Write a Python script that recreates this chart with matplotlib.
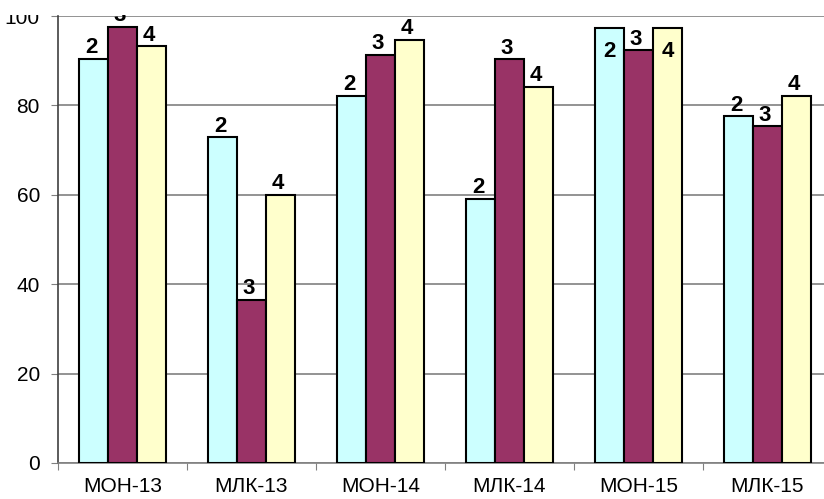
import numpy as np
import matplotlib.pyplot as plt
from matplotlib.patches import Rectangle

categories = ['МОН-13', 'МЛК-13', 'МОН-14', 'МЛК-14', 'МОН-15', 'МЛК-15']
series_names = ['2', '3', '4']
vals_2 = [90.4, 72.9, 82.2, 59.1, 97.3, 77.6]
vals_3 = [97.6, 36.5, 91.3, 90.3, 92.3, 75.3]
vals_4 = [93.2, 60.0, 94.7, 84.2, 97.3, 82.2]
yticks = [0, 20, 40, 60, 80, 100]

# labels drawn inside the bar (category index, series index)
inside = [(4, 0), (4, 2)]

colors = ['#CCFFFF', '#993366', '#FFFFCC']

plt.rcParams['font.family'] = ['Liberation Sans', 'DejaVu Sans']

fig = plt.figure(figsize=(8.24, 4.99), dpi=100)
# plot area runs past the right edge of the picture
ax = fig.add_axes([58/824, 36/499, 774/824, 447/499])

x = np.arange(len(categories)) + 0.5
w = 0.224
series = [vals_2, vals_3, vals_4]

for k, vals in enumerate(series):
    xs = x + (k - 1) * w
    ax.bar(xs, vals, width=w, color=colors[k], edgecolor='black',
           linewidth=1.5, zorder=3)
    for i, v in enumerate(vals):
        if (i, k) in inside:
            ax.text(xs[i], v - 2.8, series_names[k], ha='center', va='top',
                    fontsize=16, fontweight='bold', zorder=4)
        else:
            ax.text(xs[i] - 0.02, v + 0.1, series_names[k], ha='center', va='bottom',
                    fontsize=16, fontweight='bold', zorder=4)

ax.set_xlim(0, 6)
ax.set_ylim(0, 100)
ax.set_yticks(yticks)
ax.yaxis.grid(True, color='#808080', linewidth=1.2, zorder=0)
ax.set_xticks(np.arange(0, 7))
ax.set_xticklabels([])
ax.set_xticks(x, minor=True)
ax.set_xticklabels(categories, minor=True)
ax.tick_params(axis='x', which='minor', length=0, pad=10, labelsize=15)
ax.tick_params(axis='x', which='major', length=5, color='#808080', direction='out')
ax.tick_params(axis='y', length=5, color='#808080', pad=8, labelsize=15)

for s in ['top', 'right']:
    ax.spines[s].set_visible(False)
ax.spines['left'].set_color('#404040')
ax.spines['bottom'].set_color('#808080')
ax.spines['left'].set_linewidth(1.2)
ax.spines['bottom'].set_linewidth(1.2)

# top strip of the original picture is cut off
fig.patches.append(Rectangle((0, 1 - 15/499), 1, 15/499, transform=fig.transFigure,
                             facecolor='white', edgecolor='none', zorder=10))

fig.savefig('out.png', dpi=100)
